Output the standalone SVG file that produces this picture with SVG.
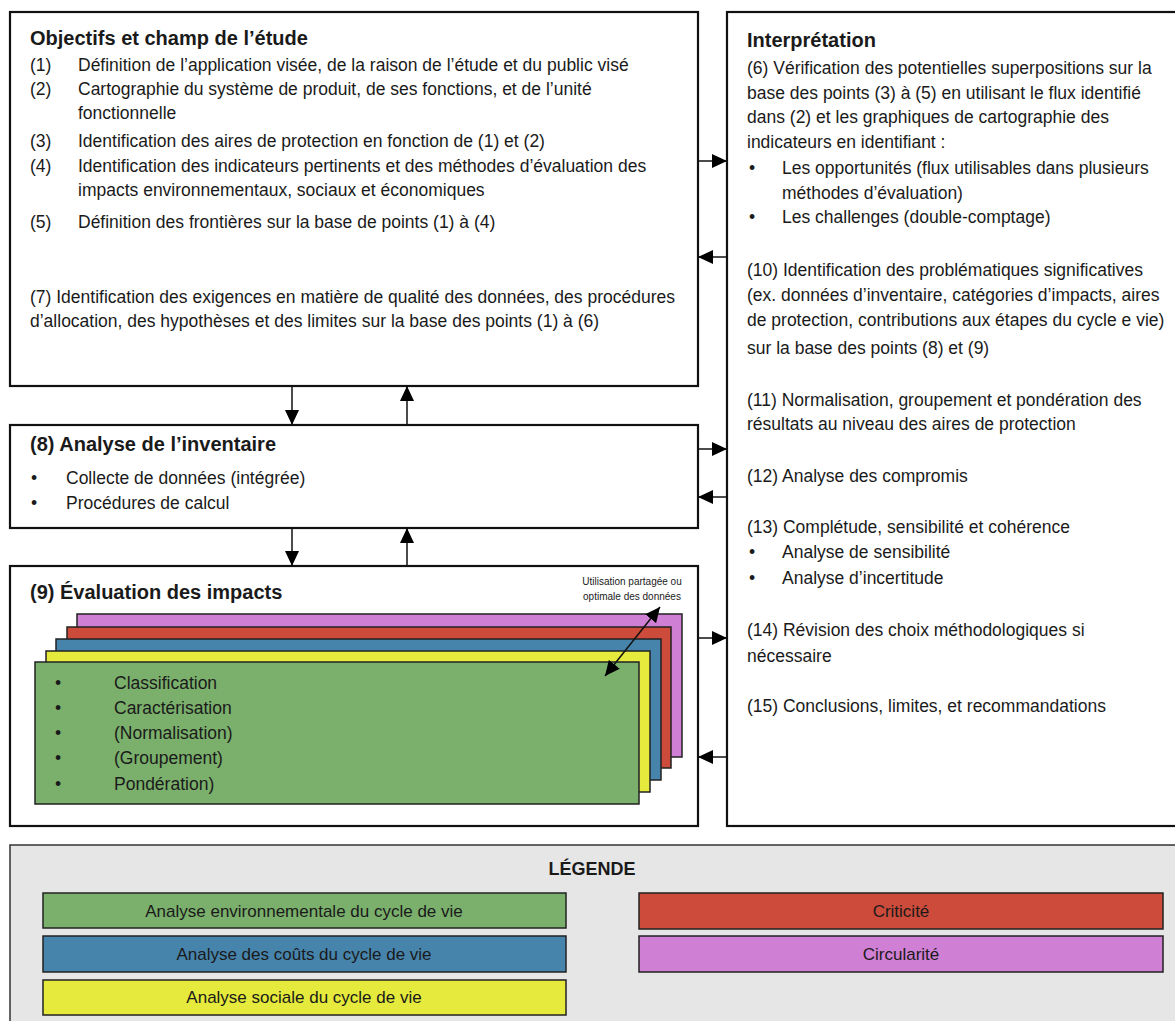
<svg xmlns="http://www.w3.org/2000/svg" width="1175" height="1021" viewBox="0 0 1175 1021">
<style>
  text { font-family: "Liberation Sans", Arial, sans-serif; fill: #1a1a1a; }
  .t { font-size: 17.5px; }
  .h { font-size: 20px; font-weight: bold; }
  .lg { font-size: 17px; text-anchor: middle; }
  .sm { font-size: 10px; text-anchor: middle; }
  .box { fill: #ffffff; stroke: #111111; stroke-width: 2.2; }
  .lay { stroke: #222222; stroke-width: 1.5; }
  .conn { stroke: #111111; stroke-width: 1.5; fill: none; }
</style>
<defs>
  <marker id="ah" markerUnits="userSpaceOnUse" markerWidth="16" markerHeight="14" refX="15" refY="7" orient="auto-start-reverse">
    <path d="M0,0 L15,7 L0,14 z" fill="#000000"/>
  </marker>
</defs>
<rect x="0" y="0" width="1175" height="1021" fill="#ffffff"/>

<g id="objectifs">
  <rect class="box" x="10" y="12" width="688" height="374"/>
  <text class="h" x="30" y="45">Objectifs et champ de l’étude</text>
  <text class="t" x="30" y="71">(1)</text><text class="t" x="78" y="71">Définition de l’application visée, de la raison de l’étude et du public visé</text>
  <text class="t" x="30" y="95">(2)</text><text class="t" x="78" y="95">Cartographie du système de produit, de ses fonctions, et de l’unité</text>
  <text class="t" x="78" y="119">fonctionnelle</text>
  <text class="t" x="30" y="147">(3)</text><text class="t" x="78" y="147">Identification des aires de protection en fonction de (1) et (2)</text>
  <text class="t" x="30" y="172">(4)</text><text class="t" x="78" y="172">Identification des indicateurs pertinents et des méthodes d’évaluation des</text>
  <text class="t" x="78" y="196">impacts environnementaux, sociaux et économiques</text>
  <text class="t" x="30" y="228">(5)</text><text class="t" x="78" y="228">Définition des frontières sur la base de points (1) à (4)</text>
  <text class="t" x="30" y="303">(7) Identification des exigences en matière de qualité des données, des procédures</text>
  <text class="t" x="30" y="327">d’allocation, des hypothèses et des limites sur la base des points (1) à (6)</text>
</g>

<g id="inventaire">
  <rect class="box" x="10" y="425" width="688" height="103"/>
  <text class="h" x="30" y="451">(8) Analyse de l’inventaire</text>
  <text class="t" x="31" y="484">•</text><text class="t" x="66" y="484">Collecte de données (intégrée)</text>
  <text class="t" x="31" y="509">•</text><text class="t" x="66" y="509">Procédures de calcul</text>
</g>

<g id="evaluation">
  <rect class="box" x="10" y="566" width="688" height="260"/>
  <text class="h" x="30" y="599">(9) Évaluation des impacts</text>
  <rect class="lay" x="77" y="614" width="605" height="143" fill="#d080d4"/>
  <rect class="lay" x="67" y="627" width="604" height="141" fill="#cc4b3b"/>
  <rect class="lay" x="56" y="639" width="605" height="141" fill="#4784ac"/>
  <rect class="lay" x="46" y="651" width="604" height="141" fill="#e5ea3c"/>
  <rect class="lay" x="35" y="662" width="604" height="142" fill="#7ab06c"/>
  <text class="t" x="55" y="689">•</text><text class="t" x="114" y="689">Classification</text>
  <text class="t" x="55" y="714">•</text><text class="t" x="114" y="714">Caractérisation</text>
  <text class="t" x="55" y="739">•</text><text class="t" x="114" y="739">(Normalisation)</text>
  <text class="t" x="55" y="764">•</text><text class="t" x="114" y="764">(Groupement)</text>
  <text class="t" x="55" y="790">•</text><text class="t" x="114" y="790">Pondération)</text>
  <text class="sm" x="632" y="585">Utilisation partagée ou</text>
  <text class="sm" x="632" y="600">optimale des données</text>
</g>

<g id="interpretation">
  <rect class="box" x="727" y="12" width="470" height="814"/>
  <text class="h" x="747" y="47">Interprétation</text>
  <text class="t" x="747" y="74">(6) Vérification des potentielles superpositions sur la</text>
  <text class="t" x="747" y="99">base des points (3) à (5) en utilisant le flux identifié</text>
  <text class="t" x="747" y="123">dans (2) et les graphiques de cartographie des</text>
  <text class="t" x="747" y="148">indicateurs en identifiant :</text>
  <text class="t" x="749" y="174">•</text><text class="t" x="782" y="174">Les opportunités (flux utilisables dans plusieurs</text>
  <text class="t" x="782" y="199">méthodes d’évaluation)</text>
  <text class="t" x="749" y="223">•</text><text class="t" x="782" y="223">Les challenges (double-comptage)</text>
  <text class="t" x="747" y="276">(10) Identification des problématiques significatives</text>
  <text class="t" x="747" y="301">(ex. données d’inventaire, catégories d’impacts, aires</text>
  <text class="t" x="747" y="326">de protection, contributions aux étapes du cycle e vie)</text>
  <text class="t" x="747" y="354">sur la base des points (8) et (9)</text>
  <text class="t" x="747" y="406">(11) Normalisation, groupement et pondération des</text>
  <text class="t" x="747" y="430">résultats au niveau des aires de protection</text>
  <text class="t" x="747" y="482">(12) Analyse des compromis</text>
  <text class="t" x="747" y="533">(13) Complétude, sensibilité et cohérence</text>
  <text class="t" x="749" y="558">•</text><text class="t" x="782" y="558">Analyse de sensibilité</text>
  <text class="t" x="749" y="584">•</text><text class="t" x="782" y="584">Analyse d’incertitude</text>
  <text class="t" x="747" y="636">(14) Révision des choix méthodologiques si</text>
  <text class="t" x="747" y="662">nécessaire</text>
  <text class="t" x="747" y="712">(15) Conclusions, limites, et recommandations</text>
</g>

<g id="legende">
  <rect x="10" y="845" width="1180" height="190" fill="#e6e6e6" stroke="#333333" stroke-width="1.5"/>
  <text x="592" y="875" style="font-size:18px;font-weight:bold;text-anchor:middle">LÉGENDE</text>
  <rect class="lay" x="43" y="893" width="523" height="35" fill="#7ab06c"/>
  <text class="lg" x="304" y="917">Analyse environnementale du cycle de vie</text>
  <rect class="lay" x="43" y="936" width="523" height="36" fill="#4784ac"/>
  <text class="lg" x="304" y="960">Analyse des coûts du cycle de vie</text>
  <rect class="lay" x="43" y="980" width="523" height="35" fill="#e5ea3c"/>
  <text class="lg" x="304" y="1003">Analyse sociale du cycle de vie</text>
  <rect class="lay" x="639" y="893" width="524" height="36" fill="#cc4b3b"/>
  <text class="lg" x="901" y="917">Criticité</text>
  <rect class="lay" x="639" y="936" width="524" height="36" fill="#d080d4"/>
  <text class="lg" x="901" y="960">Circularité</text>
</g>

<g id="connectors">
  <line class="conn" x1="292" y1="386" x2="292" y2="425" marker-end="url(#ah)"/>
  <line class="conn" x1="407" y1="425" x2="407" y2="386" marker-end="url(#ah)"/>
  <line class="conn" x1="292" y1="528" x2="292" y2="566" marker-end="url(#ah)"/>
  <line class="conn" x1="407" y1="566" x2="407" y2="528" marker-end="url(#ah)"/>
  <line class="conn" x1="698" y1="161" x2="727" y2="161" marker-end="url(#ah)"/>
  <line class="conn" x1="727" y1="257" x2="698" y2="257" marker-end="url(#ah)"/>
  <line class="conn" x1="698" y1="449" x2="727" y2="449" marker-end="url(#ah)"/>
  <line class="conn" x1="727" y1="497" x2="698" y2="497" marker-end="url(#ah)"/>
  <line class="conn" x1="698" y1="638" x2="727" y2="638" marker-end="url(#ah)"/>
  <line class="conn" x1="727" y1="757" x2="698" y2="757" marker-end="url(#ah)"/>
  <line class="conn" x1="660" y1="607" x2="605" y2="676" marker-start="url(#ah)" marker-end="url(#ah)"/>
</g>
</svg>
